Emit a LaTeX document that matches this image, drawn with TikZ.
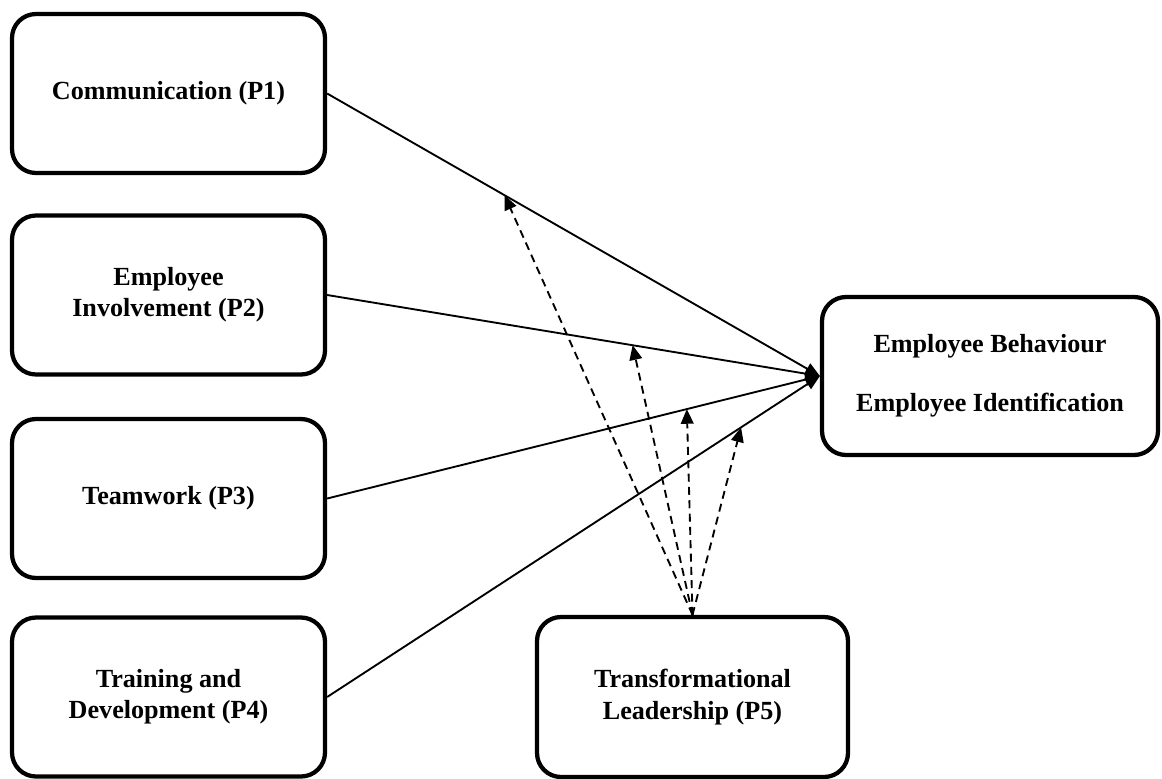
\documentclass[tikz,border=0pt]{standalone}
\usepackage{fontspec}
\setmainfont{Liberation Serif}
\usepackage{tikz}
\usetikzlibrary{arrows.meta}
\usetikzlibrary{positioning}
\tikzstyle{prop}=[draw,rectangle,rounded corners=18pt,line width=3.2pt,align=center,
font=\fontsize{19.6}{23.5}\selectfont\bfseries,minimum width=234.75pt,minimum height=119.25pt]
\tikzstyle{effect} = [>={Triangle[length=11pt,width=9pt]},draw,line width=1.4pt,black]
\tikzstyle{moder} = [>={Triangle[length=11pt,width=9.5pt]},draw,dash pattern=on 6pt off 4pt,line width=1.4pt,black]

\begin{document}
\begin{tikzpicture}[x=0.75pt,y=-0.75pt]
	\useasboundingbox (0,0) rectangle (1162,778);
	\node[prop] (co) at (168.5,93.5) {Communication (P1)};
	\node[prop] (ei) at (168.5,295) {Employee\\Involvement (P2)};
	\node[prop] (tw) at (168.5,498.5) {Teamwork (P3)};
	\node[prop] (td) at (168.5,697) {Training and\\Development (P4)};
	\node[prop,minimum width=252pt,minimum height=118.5pt] (eb) at (990,376)
	{Employee Behaviour\\[21pt]Employee Identification};
	\node[prop,minimum width=233.25pt,minimum height=120pt] (tl) at (692.5,697)
	{Transformational\\Leadership (P5)};
	
	% direct effects
	\path[effect,->] (co.east) -- coordinate[pos=0.36] (m1) (eb.west);
	\path[effect,->] (ei.east) -- coordinate[pos=0.62] (m2) (eb.west);
	\path[effect,->] (tw.east) -- coordinate[pos=0.73] (m3) (eb.west);
	\path[effect,->] (td.east) -- coordinate[pos=0.84] (m4) (eb.west);
	
	% moderation
	\path[moder,->] (tl.north) -- (m1);
	\path[moder,->] (tl.north) -- (m2);
	\path[moder,->] (tl.north) -- (m3);
	\path[moder,->] (tl.north) -- (m4);
	
\end{tikzpicture}
\end{document}
